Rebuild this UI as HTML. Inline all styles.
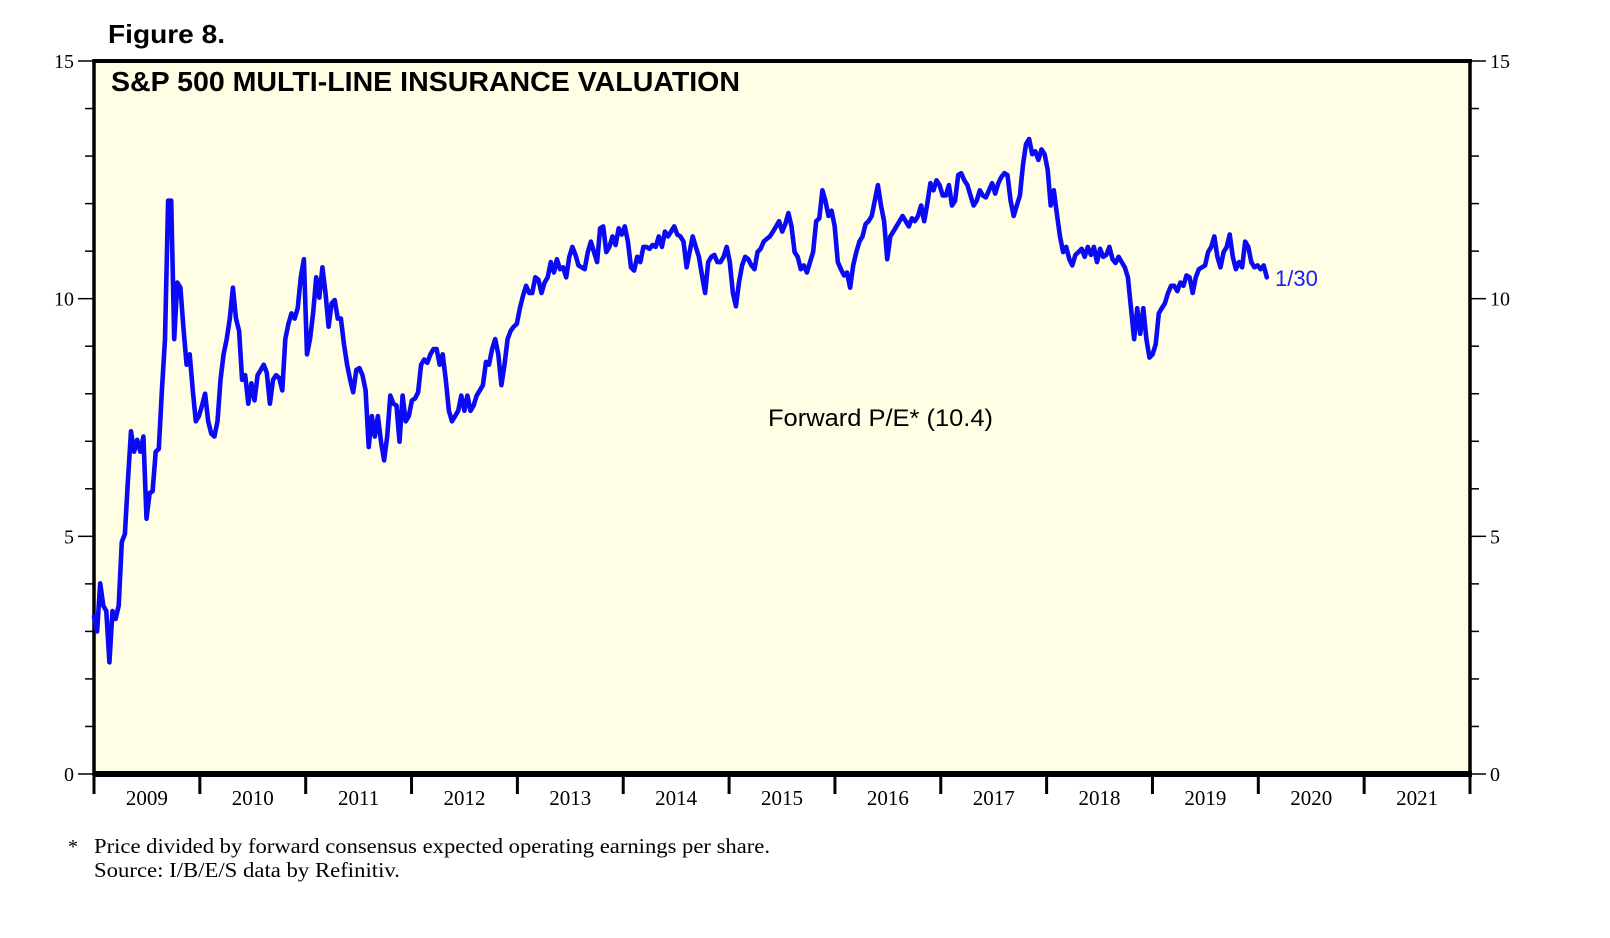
<!DOCTYPE html>
<html><head><meta charset="utf-8"><style>
html,body{margin:0;padding:0;background:#fff;width:1610px;height:938px;overflow:hidden}
svg{display:block}
</style></head><body>
<svg id="chart" width="1610" height="938" viewBox="0 0 1610 938" xmlns="http://www.w3.org/2000/svg">
<text x="108" y="43" font-family="Liberation Sans, sans-serif" font-weight="bold" font-size="26" textLength="117" lengthAdjust="spacingAndGlyphs">Figure 8.</text>
<rect x="94" y="61" width="1376" height="713" fill="#fffde3"/>
<g id="axes"></g>
<text x="111" y="91" font-family="Liberation Sans, sans-serif" font-weight="bold" font-size="28" textLength="629" lengthAdjust="spacingAndGlyphs">S&amp;P 500 MULTI-LINE INSURANCE VALUATION</text>
<text x="768" y="426" font-family="Liberation Sans, sans-serif" font-size="24" textLength="225" lengthAdjust="spacingAndGlyphs">Forward P/E* (10.4)</text>
<text x="1275" y="286" font-family="Liberation Sans, sans-serif" font-size="22" fill="#1a1aff">1/30</text>
<text x="68" y="853" font-family="Liberation Serif, serif" font-size="20">*</text>
<text x="94" y="853" font-family="Liberation Serif, serif" font-size="21" textLength="676" lengthAdjust="spacingAndGlyphs">Price divided by forward consensus expected operating earnings per share.</text>
<text x="94" y="877" font-family="Liberation Serif, serif" font-size="21" textLength="306" lengthAdjust="spacingAndGlyphs">Source: I/B/E/S data by Refinitiv.</text>
</svg>
<script>
const yearLabels = ["2009","2010","2011","2012","2013","2014","2015","2016","2017","2018","2019","2020","2021"];
const yTicks = [0,5,10,15];
const startYear = 2009.0;
const endYear = 2020.08;
const peValues = [3.32,3.0,4.01,3.54,3.43,2.35,3.43,3.26,3.54,4.88,5.05,6.17,7.21,6.78,7.03,6.78,7.1,5.37,5.91,5.95,6.78,6.84,8.07,9.15,12.06,12.06,9.15,10.34,10.23,9.37,8.61,8.83,8.07,7.42,7.53,7.75,8.0,7.42,7.16,7.1,7.42,8.29,8.83,9.15,9.58,10.23,9.58,9.32,8.29,8.39,7.79,8.22,7.86,8.39,8.5,8.61,8.44,7.79,8.29,8.39,8.33,8.07,9.15,9.47,9.69,9.58,9.8,10.45,10.83,8.83,9.15,9.69,10.45,10.02,10.66,10.12,9.41,9.9,9.97,9.58,9.58,9.04,8.61,8.29,8.03,8.5,8.54,8.39,8.07,6.88,7.53,7.1,7.53,6.99,6.6,7.1,7.96,7.79,7.75,6.99,7.96,7.42,7.53,7.86,7.9,8.03,8.61,8.72,8.65,8.83,8.94,8.94,8.61,8.83,8.29,7.64,7.42,7.53,7.64,7.96,7.64,7.96,7.64,7.75,7.96,8.07,8.18,8.67,8.61,8.94,9.15,8.83,8.18,8.61,9.15,9.32,9.41,9.47,9.8,10.06,10.27,10.12,10.12,10.45,10.4,10.12,10.34,10.45,10.77,10.55,10.83,10.62,10.66,10.45,10.88,11.09,10.92,10.7,10.66,10.62,10.98,11.2,10.98,10.77,11.48,11.52,10.98,11.09,11.31,11.13,11.48,11.35,11.52,11.2,10.66,10.59,10.88,10.77,11.09,11.09,11.05,11.13,11.09,11.31,11.09,11.41,11.31,11.41,11.52,11.35,11.31,11.2,10.66,10.98,11.31,11.09,10.88,10.49,10.12,10.77,10.88,10.92,10.77,10.77,10.88,11.09,10.77,10.12,9.84,10.34,10.7,10.88,10.83,10.7,10.62,10.98,11.05,11.2,11.26,11.31,11.41,11.52,11.63,11.41,11.57,11.8,11.52,10.98,10.88,10.62,10.7,10.55,10.77,10.98,11.63,11.69,12.28,12.06,11.74,11.85,11.52,10.77,10.62,10.49,10.55,10.23,10.7,10.98,11.2,11.31,11.57,11.63,11.74,12.06,12.39,11.96,11.63,10.83,11.31,11.41,11.52,11.63,11.74,11.63,11.52,11.69,11.63,11.74,11.96,11.63,12.0,12.43,12.28,12.49,12.39,12.17,12.17,12.39,11.96,12.06,12.6,12.64,12.49,12.39,12.17,11.96,12.06,12.28,12.17,12.13,12.28,12.43,12.21,12.43,12.56,12.64,12.6,12.06,11.74,11.96,12.17,12.82,13.25,13.36,13.04,13.1,12.92,13.14,13.04,12.71,11.96,12.28,11.78,11.31,10.98,11.09,10.83,10.7,10.92,10.98,11.05,10.88,11.09,10.92,11.09,10.77,11.05,10.88,10.92,11.09,10.83,10.75,10.88,10.77,10.66,10.45,9.8,9.15,9.8,9.26,9.8,9.15,8.76,8.83,9.04,9.69,9.8,9.9,10.12,10.27,10.27,10.16,10.34,10.27,10.49,10.45,10.12,10.45,10.62,10.66,10.7,10.98,11.09,11.31,10.88,10.66,10.98,11.09,11.35,10.88,10.62,10.77,10.66,11.2,11.09,10.77,10.66,10.7,10.62,10.7,10.45];

const NS = "http://www.w3.org/2000/svg";
const L = 94, R = 1470, T = 61, B = 774;
const X0 = 2009, X1 = 2022, Y0 = 0, Y1 = 15;
function xScale(yr){ return L + (yr - X0) / (X1 - X0) * (R - L); }
function yScale(v){ return B - (v - Y0) / (Y1 - Y0) * (B - T); }
const svg = document.getElementById('chart');
const axes = document.getElementById('axes');
function mk(tag, attrs, parent){
  const e = document.createElementNS(NS, tag);
  for (const k in attrs) e.setAttribute(k, attrs[k]);
  (parent || svg).appendChild(e);
  return e;
}

for (let v = Y0; v <= Y1; v++) {
  const y = yScale(v);
  const major = v % 5 === 0;
  const tl = mk('line', {x1: L - (major ? 16 : 9), x2: L, y1: y, y2: y, stroke: '#000', 'stroke-width': 1.5}, axes);
  
  
  const tr = mk('line', {x1: R, x2: R + (major ? 16 : 9), y1: y, y2: y, stroke: '#000', 'stroke-width': 1.5}, axes);
  
  
}
yTicks.forEach(v => {
  const y = yScale(v);
  const a = mk('text', {x: 74, y: y + 7, 'text-anchor': 'end', 'font-family': 'Liberation Serif, serif', 'font-size': 20}, axes);
  a.textContent = v;
  
  
  const b = mk('text', {x: 1490, y: y + 7, 'text-anchor': 'start', 'font-family': 'Liberation Serif, serif', 'font-size': 20}, axes);
  b.textContent = v;
  
  
});

for (let i = 0; i <= yearLabels.length; i++) {
  const x = xScale(X0 + i);
  const t = mk('line', {x1: x, x2: x, y1: B, y2: B + 20, stroke: '#000', 'stroke-width': 3}, axes);
  
  
}
yearLabels.forEach((lab, i) => {
  const x = xScale(X0 + i + 0.5);
  const t = mk('text', {x: x, y: B + 31, 'text-anchor': 'middle', 'font-family': 'Liberation Serif, serif', 'font-size': 21}, axes);
  t.textContent = lab;
  
  
});

const frame = mk('g', {}, axes);


mk('line', {x1: L - 1, x2: R + 2, y1: T, y2: T, stroke: '#000', 'stroke-width': 4}, frame);
mk('line', {x1: L, x2: L, y1: T - 2, y2: B + 2, stroke: '#000', 'stroke-width': 3.5}, frame);
mk('line', {x1: R, x2: R, y1: T - 2, y2: B + 2, stroke: '#000', 'stroke-width': 3.5}, frame);
mk('line', {x1: L - 1, x2: R + 2, y1: B, y2: B, stroke: '#000', 'stroke-width': 6}, frame);

const n = peValues.length;
const step = (endYear - startYear) / (n - 1);
const pts = peValues.map((v, i) => xScale(startYear + i * step).toFixed(1) + ',' + yScale(v).toFixed(1)).join(' ');
const line = mk('polyline', {points: pts, fill: 'none', stroke: '#0a0af5', 'stroke-width': 4.6, 'stroke-linejoin': 'round', 'stroke-linecap': 'round'});


</script>
</body></html>
